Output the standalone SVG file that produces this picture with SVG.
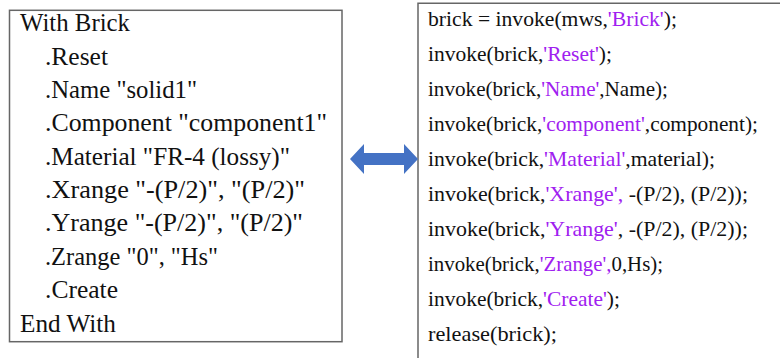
<svg xmlns="http://www.w3.org/2000/svg" width="780" height="358" viewBox="0 0 780 358">
  <style>
    .box { fill: #ffffff; stroke: #666666; stroke-width: 1.5; }
    .vb { font-family: "Liberation Serif", "Times New Roman", serif; font-size: 25px; fill: #111111; }
    .ml { font-family: "Liberation Serif", "Times New Roman", serif; font-size: 21px; fill: #111111; }
    .str { fill: #a020f0; }
    .link { fill: #4472c4; }
  </style>
  <rect width="780" height="358" fill="#ffffff"/>

  <!-- VBA macro block -->
  <g id="vba-block">
    <rect class="box" x="9.5" y="10.3" width="332.5" height="331.4"/>
    <text class="vb" x="20" y="31" textLength="110" lengthAdjust="spacingAndGlyphs">With Brick</text>
    <text class="vb" x="45" y="64.5" textLength="63" lengthAdjust="spacingAndGlyphs">.Reset</text>
    <text class="vb" x="45" y="98" textLength="152" lengthAdjust="spacingAndGlyphs">.Name "solid1"</text>
    <text class="vb" x="45" y="131" textLength="282" lengthAdjust="spacingAndGlyphs">.Component "component1"</text>
    <text class="vb" x="45" y="164.5" textLength="245" lengthAdjust="spacingAndGlyphs">.Material "FR-4 (lossy)"</text>
    <text class="vb" x="45" y="198" textLength="260" lengthAdjust="spacingAndGlyphs">.Xrange "-(P/2)", "(P/2)"</text>
    <text class="vb" x="45" y="231" textLength="258" lengthAdjust="spacingAndGlyphs">.Yrange "-(P/2)", "(P/2)"</text>
    <text class="vb" x="45" y="265" textLength="173" lengthAdjust="spacingAndGlyphs">.Zrange "0", "Hs"</text>
    <text class="vb" x="45" y="298" textLength="73" lengthAdjust="spacingAndGlyphs">.Create</text>
    <text class="vb" x="20" y="332" textLength="96" lengthAdjust="spacingAndGlyphs">End With</text>
  </g>

  <!-- MATLAB equivalent block -->
  <g id="matlab-block">
    <path class="box" d="M418 358 V3.3 H781"/>
    <text class="ml" x="428" y="26" textLength="249" lengthAdjust="spacingAndGlyphs">brick = invoke(mws,<tspan class="str">'Brick'</tspan>);</text>
    <text class="ml" x="428" y="61" textLength="184" lengthAdjust="spacingAndGlyphs">invoke(brick,<tspan class="str">'Reset'</tspan>);</text>
    <text class="ml" x="428" y="96" textLength="240" lengthAdjust="spacingAndGlyphs">invoke(brick,<tspan class="str">'Name'</tspan>,Name);</text>
    <text class="ml" x="428" y="131" textLength="330" lengthAdjust="spacingAndGlyphs">invoke(brick,<tspan class="str">'component'</tspan>,component);</text>
    <text class="ml" x="428" y="166" textLength="287" lengthAdjust="spacingAndGlyphs">invoke(brick,<tspan class="str">'Material'</tspan>,material);</text>
    <text class="ml" x="428" y="201" textLength="320" lengthAdjust="spacingAndGlyphs">invoke(brick,<tspan class="str">'Xrange',</tspan> -(P/2), (P/2));</text>
    <text class="ml" x="428" y="236" textLength="320" lengthAdjust="spacingAndGlyphs">invoke(brick,<tspan class="str">'Yrange'</tspan>, -(P/2), (P/2));</text>
    <text class="ml" x="428" y="271" textLength="235" lengthAdjust="spacingAndGlyphs">invoke(brick,<tspan class="str">'Zrange',</tspan>0,Hs);</text>
    <text class="ml" x="428" y="306" textLength="192" lengthAdjust="spacingAndGlyphs">invoke(brick,<tspan class="str">'Create'</tspan>);</text>
    <text class="ml" x="428" y="341" textLength="129" lengthAdjust="spacingAndGlyphs">release(brick);</text>
  </g>

  <!-- two-way correspondence arrow -->
  <g id="connectors">
    <path class="link" d="M350 159 L364 144 V153 H404 V144 L418 159 L404 174 V165 H364 V174 Z"/>
  </g>
</svg>
